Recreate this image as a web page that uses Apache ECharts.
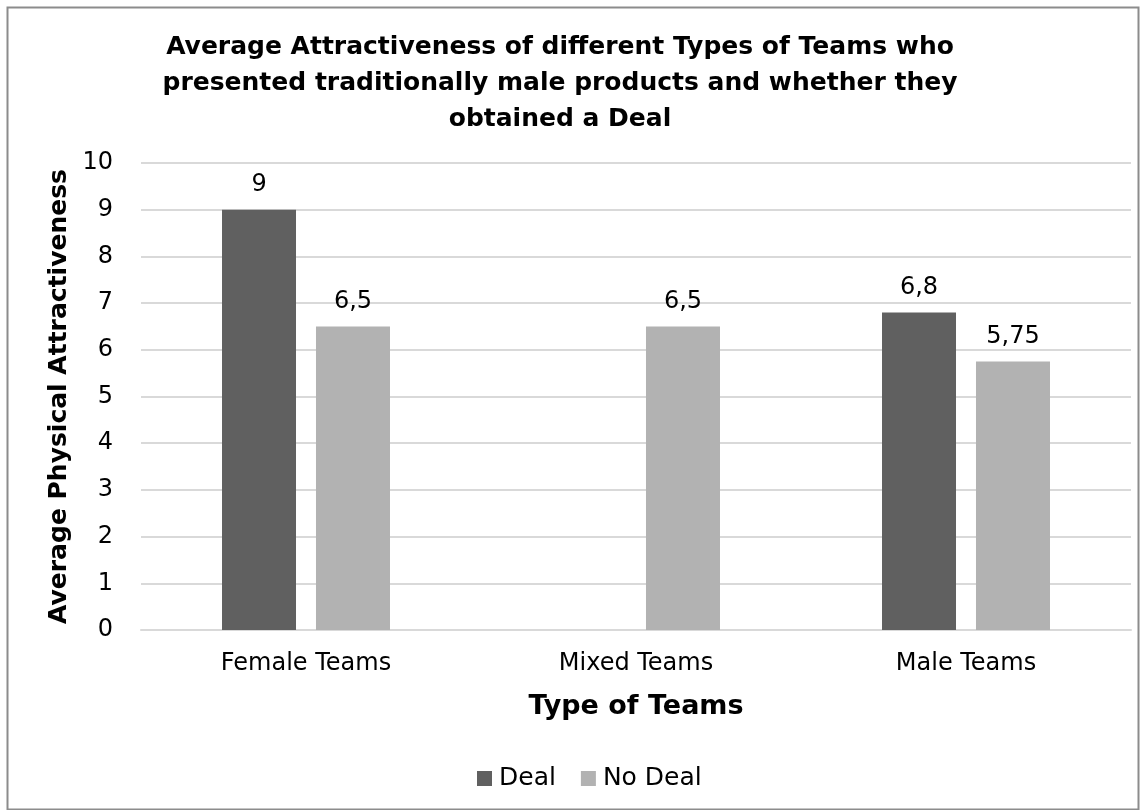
<!DOCTYPE html>
<html>

<head>
    <meta charset="utf-8">
    <script src="https://cdn.jsdelivr.net/npm/echarts@6/dist/echarts.min.js"></script>
    <title>Attractiveness</title>
    <style type="text/css">
        body { margin: 0; background: #ffffff; }
        #main { width: 1146px; height: 810px; }
    </style>
</head>

<body>
    <div id="main"></div>
    <script type="text/javascript">
        var categories = ['Female Teams', 'Mixed Teams', 'Male Teams'];
        var dealValues = [9, null, 6.8];
        var noDealValues = [6.5, 6.5, 5.75];
        var yTicks = [0, 1, 2, 3, 4, 5, 6, 7, 8, 9, 10];

        var FONT = 'DejaVu Sans';

        function commaLabel(p) {
            return String(p.value).replace('.', ',');
        }

        var myChart = echarts.init(document.getElementById('main'));

        var option = {
            backgroundColor: '#ffffff',
            textStyle: { fontFamily: FONT },
            title: {
                text: 'Average Attractiveness of different Types of Teams who\npresented traditionally male products and whether they\nobtained a Deal',
                left: 555,
                top: 24,
                textAlign: 'center',
                textStyle: {
                    fontFamily: FONT,
                    fontSize: 25,
                    fontWeight: 'bold',
                    color: '#000000',
                    lineHeight: 36
                }
            },
            legend: {
                data: ['Deal', 'No Deal'],
                left: 472,
                top: 761,
                icon: 'rect',
                itemWidth: 15,
                itemHeight: 15,
                itemGap: 25,
                textStyle: { fontFamily: FONT, fontSize: 25, color: '#000000', padding: [0, 0, 0, 2] }
            },
            grid: {
                left: 141,
                right: 15,
                top: 163,
                bottom: 180,
                containLabel: false
            },
            xAxis: {
                type: 'category',
                data: categories,
                name: 'Type of Teams',
                nameLocation: 'middle',
                nameGap: 63,
                nameTextStyle: { fontFamily: FONT, fontSize: 27, fontWeight: 'bold', color: '#000000' },
                axisLine: { lineStyle: { color: '#d9d9d9', width: 2 } },
                axisTick: { show: false },
                axisLabel: { fontFamily: FONT, fontSize: 24, color: '#000000', margin: 22 }
            },
            yAxis: {
                type: 'value',
                min: yTicks[0],
                max: yTicks[yTicks.length - 1],
                interval: 1,
                name: 'Average Physical Attractiveness',
                nameLocation: 'middle',
                nameGap: 66,
                nameTextStyle: { fontFamily: FONT, fontSize: 25, fontWeight: 'bold', color: '#000000' },
                axisLine: { show: false },
                axisTick: { show: false },
                axisLabel: { fontFamily: FONT, fontSize: 24, color: '#000000', margin: 28 },
                splitLine: { lineStyle: { color: '#d9d9d9', width: 2 } }
            },
            series: [
                {
                    name: 'Deal',
                    type: 'bar',
                    data: dealValues,
                    barWidth: 74,
                    barGap: '27%',
                    itemStyle: { color: '#606060' },
                    label: {
                        show: true,
                        position: 'top',
                        distance: 13,
                        fontFamily: FONT,
                        fontSize: 24,
                        color: '#000000',
                        formatter: commaLabel
                    }
                },
                {
                    name: 'No Deal',
                    type: 'bar',
                    data: noDealValues,
                    barWidth: 74,
                    itemStyle: { color: '#b2b2b2' },
                    label: {
                        show: true,
                        position: 'top',
                        distance: 13,
                        fontFamily: FONT,
                        fontSize: 24,
                        color: '#000000',
                        formatter: commaLabel
                    }
                }
            ],
            graphic: [
                {
                    type: 'rect',
                    shape: { x: 7.5, y: 7.5, width: 1131, height: 802 },
                    style: { fill: 'none', stroke: '#8c8c8c', lineWidth: 2 },
                    silent: true
                }
            ]
        };

        myChart.setOption(option);
    </script>
</body>

</html>
